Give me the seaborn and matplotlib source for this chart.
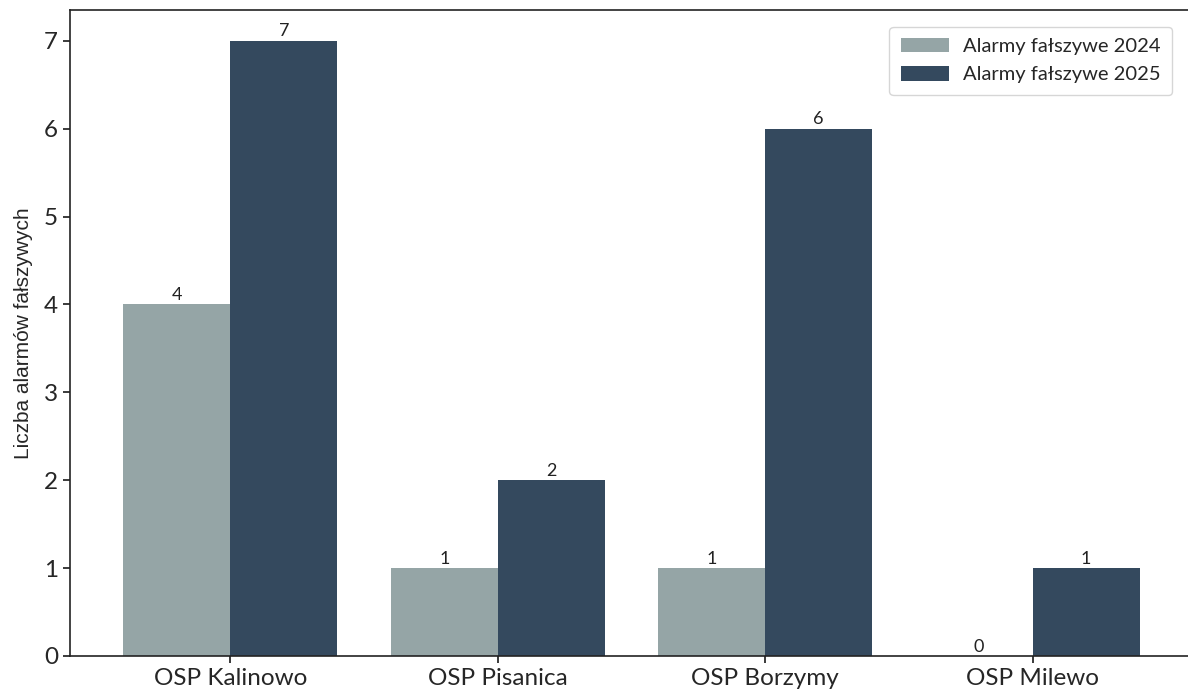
import matplotlib
matplotlib.use("Agg")
import matplotlib.pyplot as plt
import seaborn as sns
import pandas as pd

units = ["OSP Kalinowo", "OSP Pisanica", "OSP Borzymy", "OSP Milewo"]
series_names = ["Alarmy fałszywe 2024", "Alarmy fałszywe 2025"]
vals_2024 = [4, 1, 1, 0]
vals_2025 = [7, 2, 6, 1]
colors = ["#95A5A6", "#34495E"]

df = pd.DataFrame({
    "unit": units * 2,
    "series": [series_names[0]] * 4 + [series_names[1]] * 4,
    "value": vals_2024 + vals_2025,
})

sns.set_theme(style="ticks")
plt.rcParams["font.family"] = ["Lato", "DejaVu Sans"]

fig = plt.figure(figsize=(11.88, 6.96), dpi=100)
ax = fig.add_axes([70 / 1188, 40 / 696, 1123 / 1188, 646 / 696])

sns.barplot(data=df, x="unit", y="value", hue="series", palette=colors,
            width=0.8, ax=ax, saturation=1, errorbar=None, linewidth=0,
            edgecolor="none")

for cont in ax.containers:
    ax.bar_label(cont, fmt="%d", fontsize=13, padding=1, color="#222222")

ax.set_xlim(-0.6, 3.6)
ax.set_ylim(0, 7.35)
ax.set_xlabel("")
ax.set_ylabel("Liczba alarmów fałszywych", fontsize=15,
              family=["Liberation Sans", "DejaVu Sans"], labelpad=8)
ax.tick_params(axis="x", labelsize=17.5, length=5, color="#222222")
ax.tick_params(axis="y", labelsize=17.5, length=5, color="#222222")
for s in ax.spines.values():
    s.set_color("#222222")
    s.set_linewidth(1.2)
ax.spines["right"].set_visible(False)

leg = ax.legend(loc="upper right", fontsize=14.5, frameon=True,
                bbox_to_anchor=(0.99, 0.99), handlelength=2.4,
                handleheight=0.75, borderpad=0.55, labelspacing=0.55,
                handletextpad=0.7)
leg.get_frame().set_edgecolor("#cccccc")

fig.savefig("out.png", dpi=100)
